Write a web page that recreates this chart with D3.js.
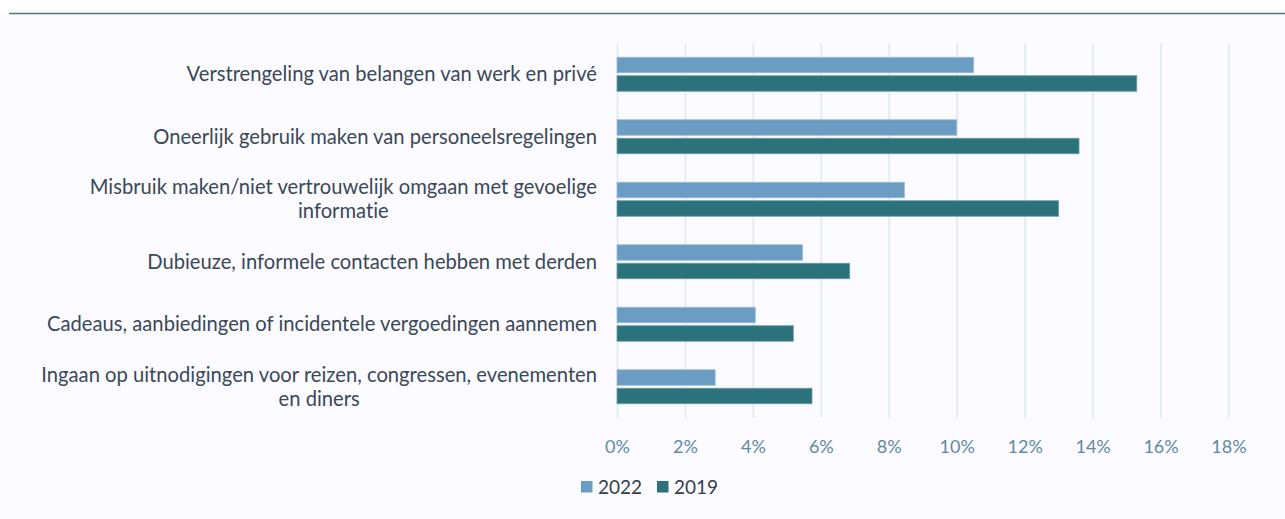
<!DOCTYPE html>
<html>
<head>
<meta charset="utf-8">
<script src="https://cdn.jsdelivr.net/npm/d3@7"></script>
<style>
    html, body { margin: 0; padding: 0; background: #ffffff; }
    svg { display: block; }
    .st-label { font-family: Lato, "Open Sans", sans-serif; font-variant-ligatures: none; }
</style>
</head>
<body>
<div class="st-charts"></div>
<script>
// categories, top to bottom (\n = line break as in the original)
var categories = [
    "Verstrengeling van belangen van werk en privé",
    "Oneerlijk gebruik maken van personeelsregelingen",
    "Misbruik maken/niet vertrouwelijk omgaan met gevoelige\ninformatie",
    "Dubieuze, informele contacten hebben met derden",
    "Cadeaus, aanbiedingen of incidentele vergoedingen aannemen",
    "Ingaan op uitnodigingen voor reizen, congressen, evenementen\nen diners"
];
var seriesNames = ["2022", "2019"];
var values2022 = [0.105, 0.100, 0.0846, 0.0546, 0.0407, 0.0289];
var values2019 = [0.153, 0.136, 0.130, 0.0685, 0.0519, 0.0574];
var tickValues = [0, 0.02, 0.04, 0.06, 0.08, 0.10, 0.12, 0.14, 0.16, 0.18];
var colors = ["#6b9cc4", "#2b727c"];

drawChart();

function drawChart() {
    var width = 1285, height = 519;

    var svg = d3.select('.st-charts')
        .append('svg')
        .attr('width', width)
        .attr('height', height);

    // page background + top rule
    svg.append('rect').attr('x', 0).attr('y', 0).attr('width', width).attr('height', height).attr('fill', '#ffffff');
    svg.append('rect').attr('x', 0).attr('y', 14).attr('width', width).attr('height', height - 14).attr('fill', '#fcfbff');
    svg.append('line')
        .attr('x1', 9).attr('x2', width)
        .attr('y1', 13.5).attr('y2', 13.5)
        .attr('stroke', '#4b7880')
        .attr('stroke-width', 1.6);

    var x = d3.scaleLinear().domain([0, 0.18]).range([617, 1228.5]);
    var y = d3.scaleBand().domain(categories).range([43, 418])
        .paddingInner(0.456).paddingOuter(0.228);
    var ySub = d3.scaleBand().domain(seriesNames).range([0, y.bandwidth()]).paddingInner(0.16);

    // gridlines
    svg.append('g')
        .attr('transform', 'translate(0,418)')
        .call(d3.axisBottom(x).tickValues(tickValues).tickSize(-375).tickFormat(''))
        .call(function (g) {
            g.select('.domain').remove();
            g.selectAll('.tick line').attr('stroke', '#dfe7ef').attr('stroke-width', 1.5);
        });

    // tick labels
    svg.append('g')
        .attr('transform', 'translate(0,437)')
        .call(d3.axisBottom(x).tickValues(tickValues).tickSize(0).tickFormat(d3.format('.0%')))
        .call(function (g) {
            g.select('.domain').remove();
            g.selectAll('.tick text')
                .attr('class', 'st-label')
                .attr('fill', '#5f8aa4')
                .attr('font-size', '18px')
                .attr('dy', '0.71em');
        });

    // bars
    var data = categories.map(function (c, i) {
        return { cat: c, vals: [values2022[i], values2019[i]] };
    });

    var groups = svg.selectAll('.st-group')
        .data(data)
        .enter()
        .append('g')
        .attr('class', 'st-group')
        .attr('transform', function (d) { return 'translate(0,' + y(d.cat) + ')'; });

    groups.selectAll('rect')
        .data(function (d) { return d.vals.map(function (v, j) { return { s: seriesNames[j], v: v, j: j }; }); })
        .enter()
        .append('rect')
        .attr('x', x(0))
        .attr('y', function (d) { return ySub(d.s); })
        .attr('width', function (d) { return x(d.v) - x(0); })
        .attr('height', ySub.bandwidth())
        .attr('fill', function (d) { return colors[d.j]; })
        .attr('stroke', function (d) { return d.j === 0 ? '#9dbdd8' : '#6f9ea5'; })
        .attr('stroke-width', 0.8);

    // category labels
    var lineHeight = 24;
    groups.append('text')
        .attr('class', 'st-label')
        .attr('fill', '#3a4858')
        .attr('font-size', '20.2px')
        .each(function (d) {
            var lines = d.cat.split('\n');
            var t = d3.select(this);
            var mid = y.bandwidth() / 2;
            var maxW = 0;
            lines.forEach(function (ln, k) {
                var span = t.append('tspan')
                    .attr('x', 0)
                    .attr('y', mid + (k - (lines.length - 1) / 2) * lineHeight)
                    .attr('dy', '0.35em')
                    .text(ln);
                maxW = Math.max(maxW, span.node().getComputedTextLength());
            });
            // block right-aligned at 597, lines centred on each other
            t.selectAll('tspan').attr('x', 597 - maxW / 2).attr('text-anchor', 'middle');
        });

    // legend
    var legend = svg.append('g').attr('transform', 'translate(581,481)');
    var legendItems = legend.selectAll('g')
        .data(seriesNames)
        .enter()
        .append('g')
        .attr('transform', function (d, i) { return 'translate(' + (i * 76) + ',0)'; });
    legendItems.append('rect')
        .attr('width', 11.5).attr('height', 11.5)
        .attr('fill', function (d, i) { return colors[i]; });
    legendItems.append('text')
        .attr('class', 'st-label')
        .attr('x', 17)
        .attr('y', 6)
        .attr('dy', '0.35em')
        .attr('fill', '#323e4e')
        .attr('font-size', '19px')
        .text(function (d) { return d; });
}
</script>
</body>
</html>
